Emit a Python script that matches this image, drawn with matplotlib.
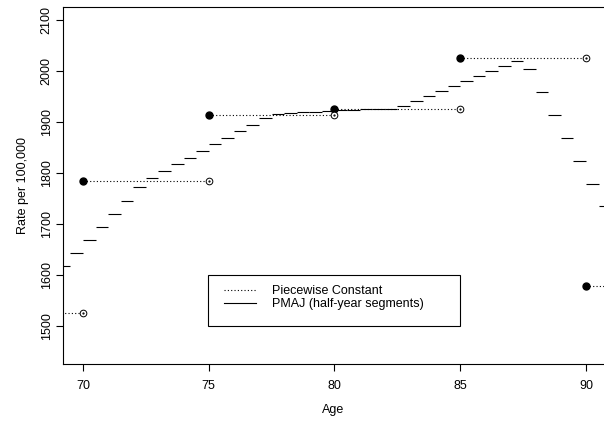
import numpy as np
import matplotlib.pyplot as plt
from matplotlib.patches import Rectangle

# piecewise constant rates (interval start, end, rate)
pc_start = [69, 70, 75, 80, 85, 90]
pc_end = [70, 75, 80, 85, 90, 91]
pc_rate = [1525, 1785, 1914, 1926, 2025, 1578]

# PMAJ half-year segments
pmaj_start = np.arange(69.0, 91.0, 0.5)
pmaj_rate = [1617, 1643, 1668, 1694, 1720, 1746, 1772, 1791, 1804, 1818,
             1830, 1843, 1856, 1869, 1882, 1895, 1908, 1915, 1917, 1919,
             1920, 1922, 1923, 1924, 1925, 1925, 1926, 1931, 1941, 1951,
             1961, 1971, 1980, 1990, 2000, 2010, 2020, 2003, 1958, 1913,
             1868, 1824, 1779, 1735]

x_ticks = [70, 75, 80, 85, 90]
y_ticks = [1500, 1600, 1700, 1800, 1900, 2000, 2100]

plt.rcParams["font.family"] = ["Liberation Sans", "DejaVu Sans"]
plt.rcParams["font.size"] = 9

fig = plt.figure(figsize=(6.04, 4.22), dpi=100)
ax = fig.add_axes([63 / 604, 1 - 364 / 422, 1 - 63 / 604, (364 - 7) / 422])

dots = (0, (1, 2))
ax.hlines(pc_rate, pc_start, pc_end, colors="black", linestyles=dots, linewidth=0.8)
ax.plot(pc_start, pc_rate, "o", color="black", markersize=5)
ax.plot(pc_end, pc_rate, "o", markerfacecolor="white", markeredgecolor="black",
        markersize=4.8, markeredgewidth=0.7)
ax.plot(pc_end, pc_rate, ".", color="black", markersize=1.2)

ax.hlines(pmaj_rate, pmaj_start, pmaj_start + 0.5, colors="black", linewidth=0.8)

ax.set_xlim(69.205, 90.716)
ax.set_ylim(1425.5, 2125.5)
ax.set_xticks(x_ticks)
ax.set_yticks(y_ticks)
ax.tick_params(direction="out", length=5, width=0.8, pad=6.5)
ax.tick_params(axis="y", labelrotation=90, pad=2.5)
for lab in ax.get_yticklabels():
    lab.set_va("center")
for side in ["left", "bottom", "top"]:
    ax.spines[side].set_linewidth(0.8)
ax.spines["right"].set_visible(False)

ax.set_xlabel("Age", labelpad=9)
ax.set_ylabel("Rate per 100,000", labelpad=8)

# legend box drawn separately so the entries can sit as in the original
ax.add_patch(Rectangle((208 / 604, 1 - 326 / 422), 252 / 604, 51 / 422,
                       transform=fig.transFigure, facecolor="white",
                       edgecolor="black", linewidth=0.8, zorder=3, clip_on=False))
h1, = ax.plot([], [], color="black", linestyle=dots, linewidth=0.8)
h2, = ax.plot([], [], color="black", linewidth=0.8)
leg = ax.legend([h1, h2], ["Piecewise Constant", "PMAJ (half-year segments)"],
                loc="upper left", bbox_to_anchor=(224 / 604, 1 - 285 / 422),
                bbox_transform=fig.transFigure, borderaxespad=0, borderpad=0,
                frameon=False, labelspacing=0.08, handlelength=2.56,
                handletextpad=1.26)
leg.set_zorder(4)

fig.savefig("out.png", dpi=100)
